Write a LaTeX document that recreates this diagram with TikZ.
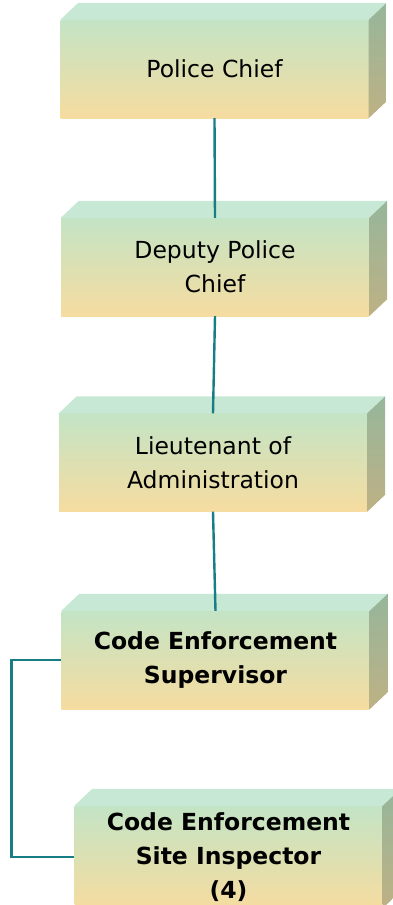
\documentclass[tikz,border=0pt]{standalone}
\usepackage{fontspec}
\setmainfont{DejaVu Sans}
\usepackage{tikz}
\usepackage{xcolor}

\definecolor{frontgreen}{RGB}{195,228,197}
\definecolor{fronttan}{RGB}{246,220,160}
\definecolor{lidgreen}{RGB}{198,232,212}
\definecolor{sidegreen}{RGB}{150,182,155}
\definecolor{sidetan}{RGB}{190,177,132}
\definecolor{linkteal}{RGB}{24,126,134}

\tikzset{
    post/.style={rectangle, minimum width=308pt, minimum height=98pt, inner sep=0pt,
        top color=frontgreen, bottom color=fronttan, align=center,
        font=\fontsize{23.5}{34}\selectfont},
    sideface/.style={top color=sidegreen, bottom color=sidetan},
    link/.style={draw=linkteal, line width=2.4pt}
}

\begin{document}
\begin{tikzpicture}[x=1pt,y=-1pt]
        \useasboundingbox (0,0) rectangle (392,905);

        \node[post] (chief) at (214.5,69) {Police Chief};
        \node[post] (deputy) at (215,267) {Deputy Police\\Chief};
        \node[post] (lieut) at (213,462.5) {Lieutenant of\\Administration};
        \node[post, font=\fontsize{23.5}{34}\selectfont\bfseries] (super) at (215.5,660) {Code Enforcement\\Supervisor};
        \node[post, minimum height=102pt, font=\fontsize{23.5}{34}\selectfont\bfseries] (insp) at (228.5,857) {Code Enforcement\\Site Inspector\\(4)};

        \foreach \n in {chief,deputy,lieut,super,insp} {
            \fill[lidgreen] (\n.north west) -- ++(18,-17) -- ([shift={(18,-17)}]\n.north east) -- (\n.north east) -- cycle;
            \shade[sideface] (\n.north east) -- ++(18,-17) -- ([shift={(18,-17)}]\n.south east) -- (\n.south east) -- cycle;
        }

        \draw[link] (chief.south) -- (deputy.north);
        \draw[link] (deputy.south) -- (lieut.north);
        \draw[link] (lieut.south) -- (super.north);
        \draw[link] (super.west) -- ++(-50,0) |- (insp.west);
    \end{tikzpicture}
\end{document}
